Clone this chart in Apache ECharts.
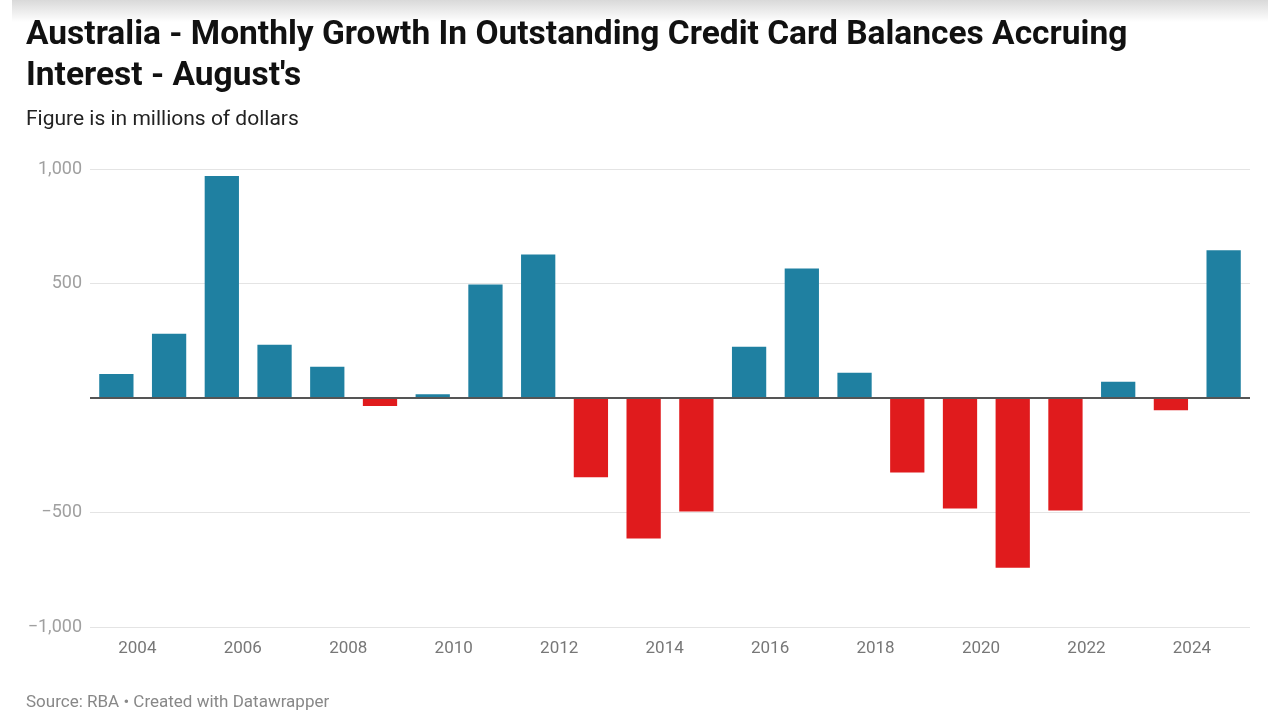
<!DOCTYPE html>
<html>
<head>
<meta charset="utf-8">
<script src="https://cdn.jsdelivr.net/npm/echarts@6/dist/echarts.min.js"></script>
<style>
html,body{margin:0;padding:0;background:#fff;}
#chart{width:1280px;height:720px;}
</style>
</head>
<body>
<div id="chart"></div>
<script>
const years = ['2004','2005','2006','2007','2008','2009','2010','2011','2012','2013','2014','2015','2016','2017','2018','2019','2020','2021','2022','2023','2024','2025'];
const growth = [105, 281, 969, 232, 136, -35, 16, 496, 627, -346, -614, -496, 224, 566, 110, -325, -482, -741, -491, 71, -53, 645];
const yTicks = [-1000, -500, 0, 500, 1000];

const chart = echarts.init(document.getElementById('chart'));
const fmt = v => {
  if (v === 0) return '';
  const s = Math.abs(v).toLocaleString('en-US');
  return v < 0 ? '\u2212' + s : s;
};
chart.setOption({
  animation: false,
  backgroundColor: '#fff',
  graphic: [
    {type:'rect', left: 12, top: 0, shape:{width:1256, height:22},
     style:{fill: new echarts.graphic.LinearGradient(0,0,0,1,[{offset:0,color:'#d9d9d9'},{offset:1,color:'#ffffff'}])}, silent:true},
    {type:'text', left: 26, top: 15, style:{text:'Australia - Monthly Growth In Outstanding Credit Card Balances Accruing\nInterest - August\'s', font:'bold 33.5px Roboto', fill:'#111', lineHeight:41}},
    {type:'text', left: 26, top: 109, style:{text:'Figure is in millions of dollars', font:'21px Roboto', fill:'#222'}},
    {type:'text', left: 26, top: 694, style:{text:'Source: RBA \u2022 Created with Datawrapper', font:'17px Roboto', fill:'#888'}}
  ],
  grid: {left: 90, right: 30, top: 169, bottom: 93, containLabel: false},
  xAxis: {
    type: 'category',
    data: years,
    axisLine: {show: false},
    axisTick: {show: false},
    axisLabel: {
      interval: 1,
      color: '#777',
      fontSize: 17,
      fontFamily: 'Roboto',
      margin: 13,
      padding: [0, 0, 0, 42]
    }
  },
  yAxis: {
    type: 'value',
    min: yTicks[0],
    max: yTicks[yTicks.length - 1],
    interval: 500,
    axisLine: {show: false},
    axisTick: {show: false},
    splitLine: {lineStyle: {color: '#e4e4e4', width: 1}},
    axisLabel: {
      color: '#a0a0a0',
      fontSize: 18,
      fontFamily: 'Roboto',
      margin: 8,
      formatter: fmt
    }
  },
  series: [{
    type: 'bar',
    data: growth,
    barCategoryGap: '35%',
    itemStyle: {
      color: p => p.value >= 0 ? '#1f80a1' : '#e01b1d'
    },
    markLine: {
      silent: true,
      symbol: 'none',
      label: {show: false},
      lineStyle: {color: '#555', width: 2, type: 'solid'},
      data: [{yAxis: 0}]
    }
  }]
});
</script>
</body>
</html>
